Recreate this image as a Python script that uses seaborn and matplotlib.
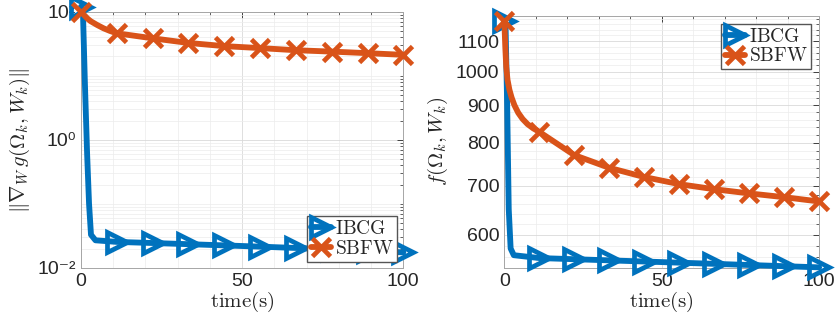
import numpy as np
import pandas as pd
import seaborn as sns
import matplotlib.pyplot as plt
from matplotlib.ticker import FixedLocator, NullFormatter, MultipleLocator

sns.set_style("white")
plt.rcParams['font.family'] = ['Liberation Sans', 'DejaVu Sans']
plt.rcParams['mathtext.fontset'] = 'cm'

# left panel: gradient norm vs time (log scale)
t_ibcg_l = [0, 0.6, 1.2, 1.9, 2.5, 3.1, 4.5, 11.1, 22.2, 33.3, 44.4, 55.6, 66.7, 77.8, 88.9, 100]
g_ibcg = [120, 100, 8, 0.6, 0.1, 0.033, 0.027, 0.0255, 0.0245, 0.0235, 0.0225, 0.0215, 0.0205, 0.0195, 0.0185, 0.0175]
mark_ibcg_l = [0, 7, 8, 9, 10, 11, 12, 13, 14, 15]

t_sbfw_l = [0, 1, 2, 3, 5, 7, 9, 11.1, 22.2, 33.3, 44.4, 55.6, 66.7, 77.8, 88.9, 100]
g_sbfw = [100, 88, 78, 71, 62, 55, 50, 46, 38.4, 32.5, 29, 27, 25, 23.8, 22.5, 21.2]
mark_sbfw_l = [0, 7, 8, 9, 10, 11, 12, 13, 14, 15]

# right panel: objective vs time
t_ibcg_r = [0, 0.4, 0.9, 1.4, 2.0, 3.0, 11.1, 22.2, 33.3, 44.4, 55.6, 66.7, 77.8, 88.9, 100]
f_ibcg = [1170, 1150, 900, 650, 575, 563, 558, 556, 554, 552, 550, 548, 546, 544, 542]
mark_ibcg_r = [0, 6, 7, 8, 9, 10, 11, 12, 13, 14]

t_sbfw_r = [0, 0.3, 0.6, 1.0, 1.6, 2.3, 3.2, 4.4, 5.8, 7.4, 9.2, 11.1, 22.2, 33.3, 44.4, 55.6, 66.7, 77.8, 88.9, 100]
f_sbfw = [1170, 1080, 1015, 975, 945, 922, 900, 879, 862, 848, 837, 828, 770, 740, 719, 703, 692, 683, 675, 666]
mark_sbfw_r = [0, 11, 12, 13, 14, 15, 16, 17, 18, 19]

blue = '#0072BD'
red = '#D95319'

fig = plt.figure(figsize=(8.35, 3.24), dpi=100)
ax1 = fig.add_axes([0.097, 0.173, 0.386, 0.791])
ax2 = fig.add_axes([0.604, 0.173, 0.377, 0.778])


def draw(ax, t, v, marks, color, marker, label, ms, mew):
    df = pd.DataFrame({'t': t, 'v': v})
    sns.lineplot(data=df, x='t', y='v', ax=ax, color=color, lw=4.2, marker=marker,
                 markevery=marks, ms=ms, mew=mew, mfc='none', mec=color,
                 label=label, clip_on=False, sort=False, zorder=3)


draw(ax1, t_ibcg_l, g_ibcg, mark_ibcg_l, blue, '>', r'$\mathrm{IBCG}$', 14, 3.4)
draw(ax1, t_sbfw_l, g_sbfw, mark_sbfw_l, red, 'x', r'$\mathrm{SBFW}$', 13, 3.4)
draw(ax2, t_ibcg_r, f_ibcg, mark_ibcg_r, blue, '>', r'$\mathrm{IBCG}$', 14, 3.4)
draw(ax2, t_sbfw_r, f_sbfw, mark_sbfw_r, red, 'x', r'$\mathrm{SBFW}$', 13, 3.4)

# left axis
ax1.set_yscale('log')
ax1.set_ylim(1e-2, 1e2)
ax1.set_yticks([1e-2, 1e0, 1e2])
ax1.set_yticklabels(['10⁻²', '10⁰', '10²'])
ax1.yaxis.set_minor_locator(FixedLocator(
    [m * 10.0 ** k for k in range(-2, 2) for m in range(1, 10)]))
ax1.yaxis.set_minor_formatter(NullFormatter())
ax1.set_ylabel(r'$\|\nabla_W\, g(\Omega_k, W_k)\|$', fontsize=15, labelpad=4)

# right axis
ax2.set_yscale('log')
ax2.set_ylim(541, 1190)
ax2.set_yticks([600, 700, 800, 900, 1000, 1100])
ax2.set_yticklabels(['600', '700', '800', '900', '1000', '1100'])
ax2.yaxis.set_minor_locator(FixedLocator(list(range(560, 1200, 20))))
ax2.yaxis.set_minor_formatter(NullFormatter())
ax2.set_ylabel(r'$f(\Omega_k, W_k)$', fontsize=15, labelpad=4)

for ax in (ax1, ax2):
    ax.set_xlim(0, 100)
    ax.set_xticks([0, 50, 100])
    ax.xaxis.set_minor_locator(MultipleLocator(10))
    ax.set_xlabel(r'$\mathrm{time(s)}$', fontsize=15, labelpad=0)
    ax.tick_params(which='both', direction='in', top=True, right=True,
                   color='#262626', labelsize=14, labelcolor='#262626')
    ax.tick_params(which='major', length=4, width=0.6)
    ax.tick_params(which='minor', length=2, width=0.5)
    ax.grid(which='major', color='#d9d9d9', lw=0.6)
    ax.grid(which='minor', color='#ececec', lw=0.5)
    ax.set_axisbelow(True)
    for s in ax.spines.values():
        s.set_color('#a6a6a6')
        s.set_linewidth(0.7)

ax1.legend(loc='lower right', fontsize=14, frameon=True, fancybox=False,
           edgecolor='#555555', framealpha=1, handlelength=1.0, handletextpad=0.2,
           borderpad=0.2, borderaxespad=0.3, labelspacing=0.1)
ax2.legend(loc='upper right', fontsize=14, frameon=True, fancybox=False,
           edgecolor='#555555', framealpha=1, handlelength=1.0, handletextpad=0.2,
           borderpad=0.2, borderaxespad=0.4, labelspacing=0.1)

plt.savefig('out.png', dpi=100)
